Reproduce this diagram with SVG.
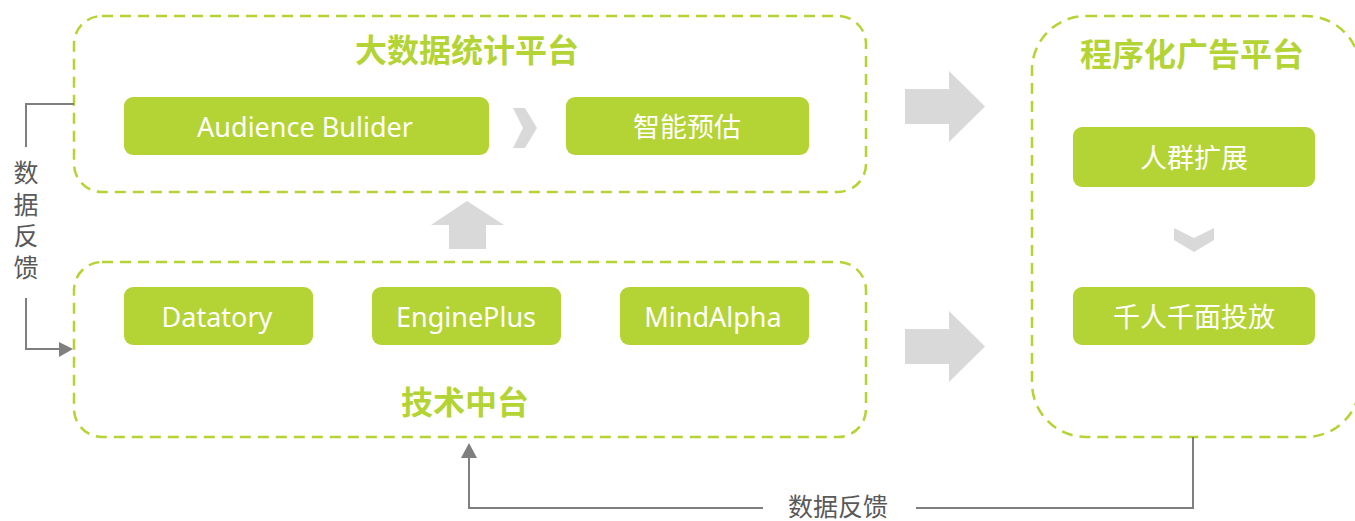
<svg xmlns="http://www.w3.org/2000/svg" width="1355" height="521" viewBox="0 0 1355 521">
<style>
.frame{fill:none;stroke:#b4d334;stroke-width:2.5;stroke-dasharray:11 7}
.box{fill:#b4d334}
.bt{fill:#ffffff;font-family:"Noto Sans","Noto Sans CJK SC",sans-serif;font-size:27px;text-anchor:middle;dominant-baseline:central}
.bc{font-size:27px}
.title{fill:#b4d334;font-family:"Noto Sans CJK SC","Noto Sans",sans-serif;font-size:32px;font-weight:bold;text-anchor:middle;dominant-baseline:central}
.big{fill:#d9d9d9}
.line{fill:none;stroke:#7f7f7f;stroke-width:2}
.fb{fill:#595959;font-family:"Noto Sans CJK SC","Noto Sans",sans-serif;font-size:25px;text-anchor:middle;dominant-baseline:central}
.vt{fill:#595959;font-family:"Noto Sans CJK SC","Noto Sans",sans-serif;font-size:25px;writing-mode:vertical-rl;letter-spacing:6.5px}
</style>
<g id="bigdata-platform">
<rect class="frame" x="74" y="16" width="792" height="176" rx="28"/>
<text class="title" x="467" y="48">大数据统计平台</text>
</g>
<g id="audience-builder">
<rect class="box" x="124" y="97" width="365" height="58" rx="9"/>
<text class="bt" x="305" y="126">Audience Bulider</text>
</g>
<g id="smart-estimate">
<rect class="box" x="566" y="97" width="243" height="58" rx="9"/>
<text class="bt bc" x="687" y="126">智能预估</text>
</g>
<g id="tech-platform">
<rect class="frame" x="74" y="262" width="792" height="175" rx="28"/>
<text class="title" x="465" y="400">技术中台</text>
</g>
<g id="datatory">
<rect class="box" x="124" y="287" width="189" height="58" rx="9"/>
<text class="bt" x="217" y="316">Datatory</text>
</g>
<g id="engineplus">
<rect class="box" x="372" y="287" width="189" height="58" rx="9"/>
<text class="bt" x="466" y="316">EnginePlus</text>
</g>
<g id="mindalpha">
<rect class="box" x="620" y="287" width="189" height="58" rx="9"/>
<text class="bt" x="713" y="316">MindAlpha</text>
</g>
<g id="ad-platform">
<rect class="frame" x="1032" y="16" width="328" height="421" rx="54"/>
<text class="title" x="1192" y="52">程序化广告平台</text>
</g>
<g id="audience-expand">
<rect class="box" x="1073" y="127" width="242" height="60" rx="9"/>
<text class="bt bc" x="1194" y="157">人群扩展</text>
</g>
<g id="personalized">
<rect class="box" x="1073" y="287" width="242" height="58" rx="9"/>
<text class="bt bc" x="1194" y="316">千人千面投放</text>
</g>
<g id="connectors">
<polygon class="big" points="513,108 525,108 537,128 525,148 513,148 523,128"/>
<polygon class="big" points="1174,228 1194,238 1214,228 1214,240 1194,252 1174,240"/>
<polygon class="big" points="905,89 949,89 949,71 985,106.5 949,142 949,124 905,124"/>
<polygon class="big" points="905,329 949,329 949,311 985,346.5 949,382 949,364 905,364"/>
<polygon class="big" points="449,249 449,225 431,225 467,201 504,225 486,225 486,249"/>
<polyline class="line" points="74,104 26,104 26,147"/>
<polyline class="line" points="26,298 26,349 62,349"/>
<polygon points="73,349 59,342 59,357" fill="#7f7f7f"/>
<polyline class="line" points="1193,437 1193,508 916,508"/>
<polyline class="line" points="763,508 469,508 469,452"/>
<polygon points="469,443 461,458 477,458" fill="#7f7f7f"/>
<text class="vt" x="26" y="160">数据反馈</text>
<text class="fb" x="838" y="505">数据反馈</text>
</g>
</svg>
